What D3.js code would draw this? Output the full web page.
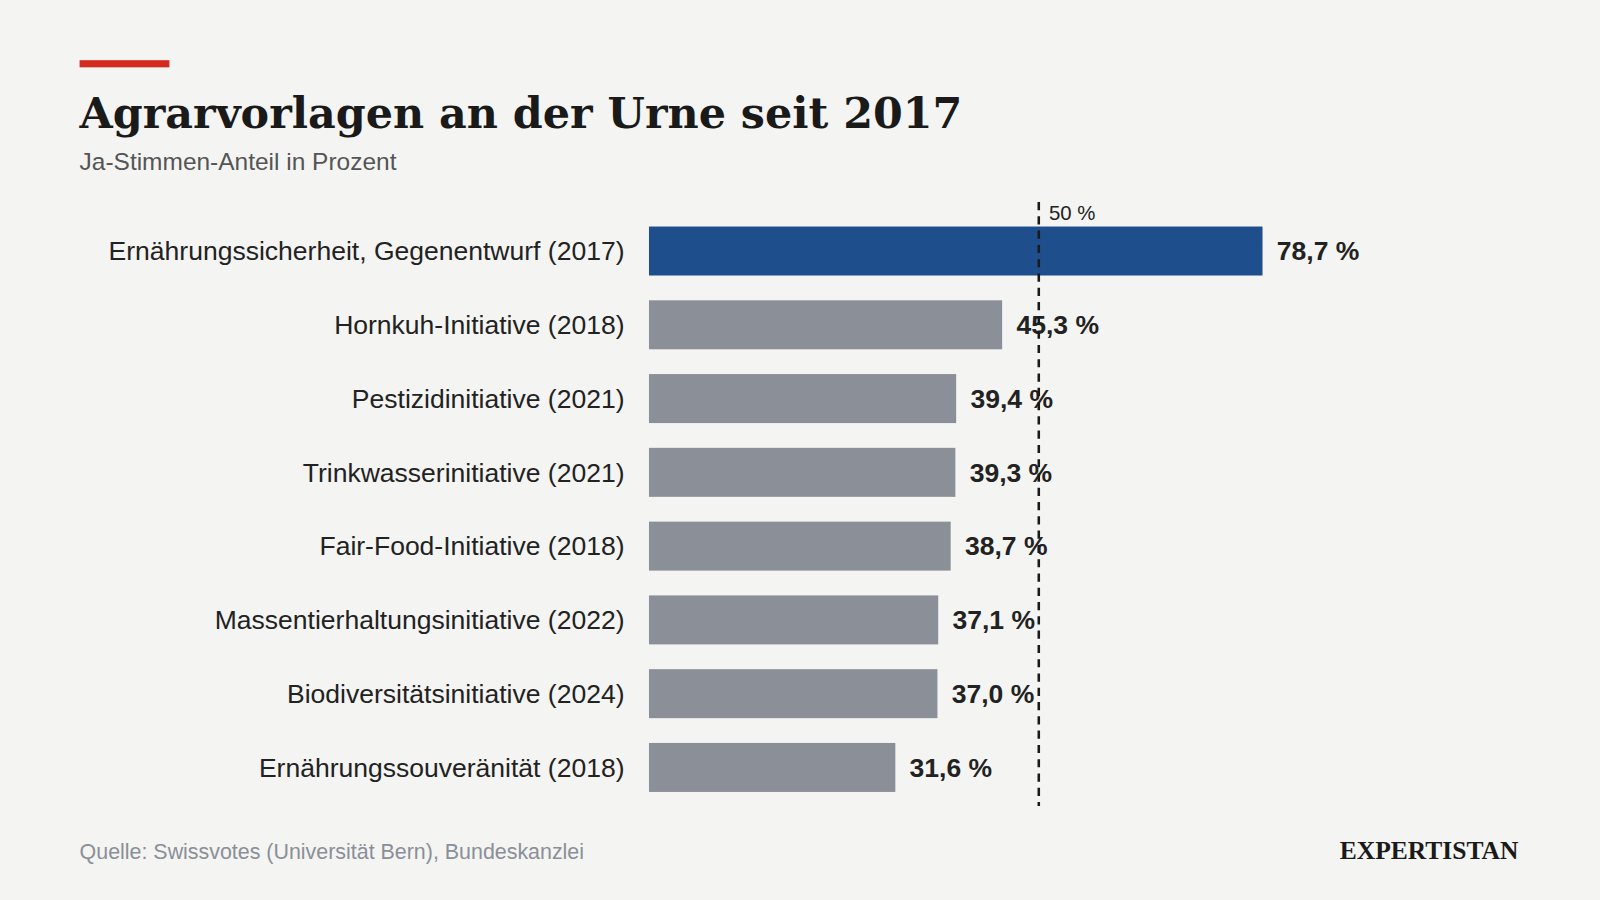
<!DOCTYPE html>
<meta charset="utf-8">
<head>
    <script src="https://d3js.org/d3.v7.min.js"></script>
    <style>
        body { margin: 0; background: #f4f4f2; font-family: 'Liberation Sans', Arial, sans-serif; }
        svg { display: block; }
        text.label { font-size: 26px; fill: #222; }
        text.value { font-size: 26px; font-weight: 700; fill: #222; }
        text.title { font-family: 'DejaVu Serif', serif; font-size: 42px; font-weight: 700; fill: #1a1a1a; }
        text.subtitle { font-size: 24px; fill: #555; }
        text.source { font-size: 21px; fill: #8a8f98; }
        text.brand { font-family: 'Liberation Serif', serif; font-size: 25px; font-weight: 700; fill: #1a1a1a; }
    </style>
</head>
<body>
<svg id="chart" width="1600" height="900" viewBox="0 0 1568 882"></svg>
<script>
    const categories = [
        'Ernährungssicherheit, Gegenentwurf (2017)',
        'Hornkuh-Initiative (2018)',
        'Pestizidinitiative (2021)',
        'Trinkwasserinitiative (2021)',
        'Fair-Food-Initiative (2018)',
        'Massentierhaltungsinitiative (2022)',
        'Biodiversitätsinitiative (2024)',
        'Ernährungssouveränität (2018)'
    ];
    const values = [78.7, 45.3, 39.4, 39.3, 38.7, 37.1, 37.0, 31.6];
    const threshold = 50;

    const svg = d3.select('#chart');
    svg.append('rect').attr('width', 1568).attr('height', 882).attr('fill', '#f4f4f2');

    const x = d3.scaleLinear().domain([0, 50]).range([636, 1018]);
    const y = d3.scaleBand().domain(categories).range([209.85, 788.25])
        .paddingInner(0.336).paddingOuter(0.168);

    svg.append('rect').attr('x', 78).attr('y', 59).attr('width', 88).attr('height', 7).attr('fill', '#d52b1e');
    svg.append('text').attr('class', 'title').attr('x', 78).attr('y', 125).text('Agrarvorlagen an der Urne seit 2017');
    svg.append('text').attr('class', 'subtitle').attr('x', 78).attr('y', 167).text('Ja-Stimmen-Anteil in Prozent');

    const rows = svg.selectAll('g.row').data(categories).enter().append('g').attr('class', 'row');

    rows.append('rect')
        .attr('x', x(0))
        .attr('y', d => y(d))
        .attr('width', (d, i) => x(values[i]) - x(0))
        .attr('height', y.bandwidth())
        .attr('fill', (d, i) => i === 0 ? '#1f4e8c' : '#8a8f98');

    rows.append('text').attr('class', 'label')
        .attr('x', 612).attr('y', d => y(d) + y.bandwidth() / 2)
        .attr('dy', '0.35em').attr('text-anchor', 'end')
        .text(d => d);

    rows.append('text').attr('class', 'value')
        .attr('x', (d, i) => x(values[i]) + 14).attr('y', d => y(d) + y.bandwidth() / 2)
        .attr('dy', '0.35em')
        .text((d, i) => values[i].toFixed(1).replace('.', ',') + ' %');

    svg.append('line')
        .attr('x1', x(threshold)).attr('x2', x(threshold))
        .attr('y1', 198).attr('y2', 790)
        .attr('stroke', '#1a1a1a').attr('stroke-width', 2.5).attr('stroke-dasharray', '8 6');
    svg.append('text').attr('x', x(threshold) + 10).attr('y', 216)
        .style('font-size', '20px').attr('fill', '#222').text(threshold + ' %');

    svg.append('text').attr('class', 'source').attr('x', 78).attr('y', 842)
        .text('Quelle: Swissvotes (Universität Bern), Bundeskanzlei');
    svg.append('text').attr('class', 'brand').attr('x', 1488).attr('y', 842)
        .attr('text-anchor', 'end').text('EXPERTISTAN');
</script>
</body>
